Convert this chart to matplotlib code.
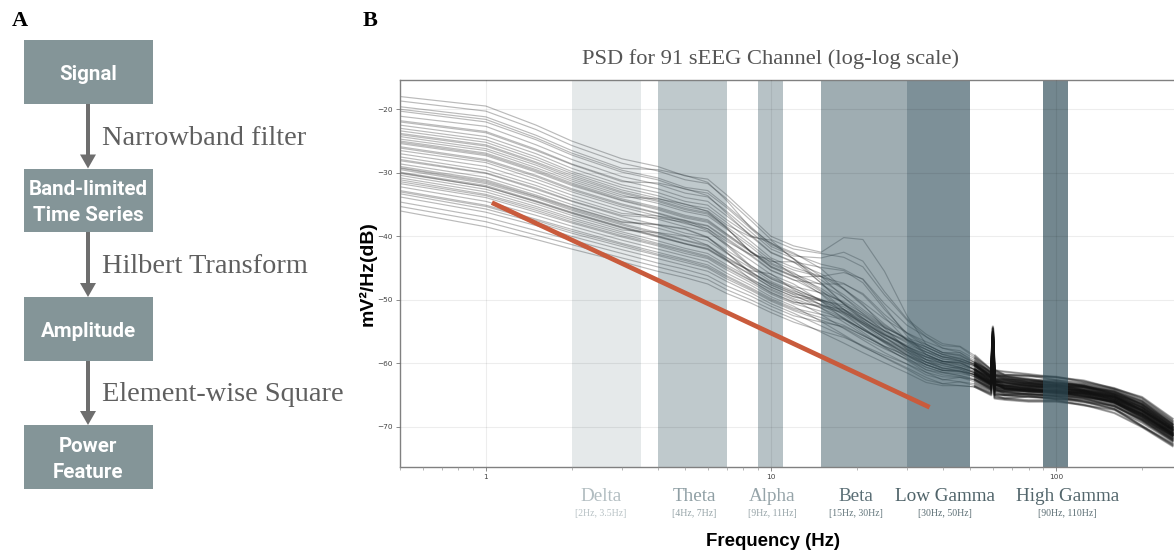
import matplotlib
matplotlib.use("Agg")
import matplotlib.pyplot as plt
from matplotlib.patches import Rectangle, Polygon
from matplotlib.transforms import blended_transform_factory
from matplotlib.ticker import NullFormatter

# ---------------- data ----------------
freqs_hz = [0.5, 1, 1.5, 2, 3, 4, 5, 6, 7, 8.5, 10, 12, 15, 18, 21, 25, 30, 35, 40, 46,
            52, 59.2, 60, 60.8, 66, 80, 100, 125, 160, 200, 256]

channel_psd_db = [
    [-18.0, -19.5, -22.5, -25.0, -27.8, -29.0, -30.5, -31.0, -33.5, -37.0, -40.0, -41.5, -42.5, -40.2, -40.5, -45.5, -52.5, -57.0, -58.3, -58.6, -59.9, -61.3, -55.0, -61.8, -62.0, -62.6, -62.7, -63.5, -64.8, -66.3, -69.6],
    [-18.7, -20.3, -23.2, -25.7, -28.5, -29.7, -31.1, -31.7, -34.1, -37.5, -40.5, -42.0, -42.7, -43.3, -44.8, -49.2, -53.2, -55.8, -57.2, -57.4, -59.1, -61.0, -54.4, -61.0, -61.8, -62.0, -62.1, -62.9, -63.9, -65.5, -69.0],
    [-19.6, -21.2, -24.1, -26.5, -29.3, -29.5, -30.4, -31.5, -34.4, -38.7, -41.1, -42.6, -45.1, -48.3, -50.9, -53.8, -56.3, -58.2, -59.3, -59.6, -60.4, -62.3, -55.6, -62.5, -63.0, -63.6, -63.6, -63.8, -65.1, -67.0, -70.3],
    [-20.3, -22.0, -24.8, -27.2, -29.9, -31.1, -32.6, -33.2, -35.5, -38.8, -41.6, -43.1, -43.4, -42.5, -43.9, -48.7, -53.0, -55.4, -56.9, -57.3, -58.8, -61.0, -54.2, -61.1, -61.3, -61.7, -62.2, -62.7, -64.0, -65.3, -68.7],
    [-21.1, -22.7, -25.6, -27.9, -30.6, -31.8, -33.2, -33.8, -36.1, -39.3, -42.0, -43.5, -46.3, -49.6, -52.2, -54.9, -57.4, -59.4, -60.1, -60.6, -61.5, -63.0, -56.2, -63.3, -63.5, -64.0, -64.5, -64.7, -65.7, -67.8, -71.0],
    [-21.8, -23.5, -26.3, -28.6, -31.2, -32.5, -33.9, -34.5, -36.8, -39.8, -42.5, -44.0, -44.9, -45.4, -47.3, -51.5, -55.3, -57.4, -58.6, -58.7, -60.2, -61.9, -55.2, -62.0, -62.5, -62.6, -63.2, -63.7, -64.4, -66.5, -69.9],
    [-22.5, -24.3, -27.0, -29.3, -31.9, -33.1, -34.5, -35.1, -37.4, -39.9, -41.0, -43.5, -47.4, -50.7, -53.2, -55.8, -58.2, -60.2, -61.1, -61.2, -61.8, -63.4, -56.6, -64.1, -64.3, -64.4, -64.6, -64.8, -66.1, -68.3, -71.4],
    [-23.0, -24.8, -27.5, -29.8, -32.3, -33.6, -35.0, -35.6, -37.8, -40.8, -43.4, -44.9, -46.3, -48.3, -50.4, -53.0, -55.2, -56.6, -57.6, -58.3, -59.6, -61.4, -54.5, -61.5, -62.0, -62.4, -63.1, -63.3, -64.3, -66.0, -69.4],
    [-23.8, -25.6, -28.3, -30.4, -33.0, -34.3, -35.6, -36.3, -38.5, -41.3, -43.8, -45.3, -46.4, -47.4, -49.2, -52.7, -56.4, -58.6, -59.7, -59.9, -61.0, -62.8, -55.8, -62.8, -63.0, -63.5, -63.8, -64.3, -65.3, -67.0, -70.5],
    [-24.3, -26.2, -28.8, -31.0, -33.5, -34.8, -36.1, -36.8, -38.9, -41.7, -44.2, -45.7, -48.5, -51.5, -53.9, -56.4, -58.7, -60.6, -61.4, -61.9, -62.4, -63.7, -56.8, -64.0, -64.5, -64.4, -64.8, -65.3, -66.0, -68.5, -71.7],
    [-24.7, -26.5, -29.2, -31.3, -33.8, -34.1, -34.9, -36.1, -38.7, -42.5, -44.4, -45.9, -47.6, -49.6, -51.8, -54.2, -56.3, -57.8, -59.0, -59.3, -60.1, -62.1, -55.4, -62.7, -62.8, -63.1, -63.4, -63.6, -64.9, -66.8, -70.1],
    [-25.0, -26.9, -29.5, -31.6, -34.1, -35.4, -36.7, -37.4, -39.6, -42.3, -44.7, -46.2, -48.2, -50.6, -52.8, -55.2, -57.4, -59.0, -59.6, -60.3, -61.3, -62.8, -56.0, -63.0, -63.9, -63.8, -63.7, -64.5, -65.5, -67.5, -70.8],
    [-25.4, -27.3, -29.9, -32.0, -34.4, -35.8, -37.1, -37.8, -39.9, -42.5, -44.9, -46.4, -46.3, -45.7, -46.7, -50.6, -54.0, -55.8, -57.6, -58.0, -59.3, -61.5, -54.6, -61.3, -61.8, -61.9, -62.6, -63.1, -64.1, -65.8, -69.2],
    [-25.9, -27.9, -30.4, -32.5, -34.9, -36.3, -37.5, -38.3, -40.3, -42.9, -45.3, -46.8, -49.0, -51.5, -53.6, -56.0, -58.1, -59.8, -60.7, -61.2, -61.8, -63.2, -56.4, -63.1, -64.0, -64.2, -64.4, -64.9, -66.2, -68.0, -71.2],
    [-26.5, -28.4, -31.0, -33.0, -35.4, -36.8, -38.0, -38.8, -40.8, -42.9, -43.6, -46.1, -48.7, -50.5, -52.5, -54.8, -56.8, -58.2, -58.9, -59.6, -60.7, -62.3, -55.6, -62.5, -62.6, -63.3, -63.6, -64.1, -65.1, -67.4, -70.3],
    [-27.0, -29.0, -31.5, -33.5, -35.9, -37.3, -38.5, -39.3, -41.3, -43.8, -46.0, -47.5, -50.2, -53.0, -55.1, -57.4, -59.5, -61.4, -62.1, -62.2, -62.6, -64.1, -57.2, -64.5, -65.0, -64.8, -65.2, -66.0, -66.7, -69.0, -72.1],
    [-27.5, -29.6, -32.0, -34.0, -36.4, -36.8, -37.5, -38.8, -41.2, -44.7, -46.4, -47.9, -48.9, -50.3, -52.1, -54.3, -56.2, -57.4, -58.6, -59.3, -60.2, -61.9, -55.2, -62.4, -62.5, -62.9, -62.9, -63.7, -64.7, -66.5, -69.9],
    [-28.1, -30.1, -32.6, -34.5, -36.9, -38.2, -39.5, -40.2, -42.2, -44.6, -46.7, -48.2, -50.0, -51.9, -53.8, -56.0, -57.9, -59.4, -60.8, -60.6, -61.5, -63.3, -56.2, -63.3, -63.8, -64.0, -64.2, -64.7, -65.4, -67.8, -71.0],
    [-28.6, -30.7, -33.1, -35.0, -37.4, -38.7, -39.9, -40.7, -42.7, -45.0, -47.1, -48.6, -49.9, -51.5, -53.3, -55.4, -57.3, -58.9, -59.7, -59.9, -61.0, -62.5, -55.8, -62.8, -63.6, -63.5, -64.1, -64.3, -65.3, -67.3, -70.5],
    [-29.0, -31.1, -33.5, -35.4, -37.7, -38.1, -38.8, -40.1, -42.5, -45.7, -47.3, -48.8, -50.8, -52.8, -54.7, -56.7, -58.7, -60.2, -61.1, -61.2, -61.7, -63.4, -56.6, -63.8, -64.3, -64.0, -64.6, -65.1, -66.1, -68.7, -71.4],
    [-29.3, -31.5, -33.8, -35.7, -38.0, -39.4, -40.6, -41.4, -43.3, -45.5, -47.6, -49.1, -50.0, -51.1, -52.9, -54.9, -56.6, -57.8, -59.0, -59.0, -60.4, -62.1, -55.4, -62.6, -62.8, -63.1, -63.4, -64.2, -64.9, -66.8, -70.1],
    [-29.5, -31.7, -34.0, -35.9, -38.2, -39.6, -40.7, -41.6, -43.4, -45.6, -47.7, -49.2, -51.3, -53.5, -55.4, -57.5, -59.4, -61.0, -61.5, -61.9, -62.6, -63.9, -57.0, -64.3, -64.4, -64.9, -65.0, -65.5, -66.8, -68.8, -71.9],
    [-29.9, -32.0, -34.4, -36.2, -38.5, -39.9, -41.1, -41.9, -43.7, -45.4, -45.9, -48.4, -50.8, -52.2, -53.9, -55.9, -57.7, -59.0, -60.0, -60.3, -61.0, -62.8, -56.0, -63.4, -63.5, -63.8, -64.3, -64.5, -65.5, -67.5, -70.8],
    [-30.1, -32.2, -34.6, -36.4, -38.7, -40.1, -41.2, -42.1, -43.9, -46.1, -48.0, -49.5, -50.1, -50.8, -52.4, -54.4, -56.0, -57.0, -58.3, -58.3, -59.9, -61.6, -55.0, -61.8, -62.3, -62.9, -63.0, -63.5, -64.5, -66.0, -69.6],
    [-30.4, -32.6, -34.9, -36.7, -39.0, -39.4, -40.0, -41.4, -43.7, -46.8, -48.3, -49.8, -51.3, -52.9, -54.7, -56.6, -58.4, -59.8, -60.3, -60.9, -61.8, -63.2, -56.0, -63.5, -64.0, -64.2, -64.4, -65.2, -65.9, -68.0, -71.2],
    [-30.8, -33.0, -35.3, -37.1, -39.3, -40.7, -41.9, -42.7, -44.5, -46.6, -48.5, -50.0, -52.3, -54.5, -56.3, -58.3, -60.1, -61.8, -62.5, -62.9, -63.2, -64.3, -57.4, -64.8, -65.0, -65.3, -65.4, -65.9, -67.2, -69.3, -72.3],
    [-31.1, -33.4, -35.6, -37.4, -39.6, -41.1, -42.2, -43.1, -44.8, -46.9, -48.8, -50.3, -51.1, -52.0, -53.6, -55.5, -57.1, -58.2, -59.3, -59.6, -60.4, -62.3, -55.6, -62.9, -63.0, -63.3, -63.3, -64.1, -65.1, -67.0, -70.3],
    [-31.7, -33.9, -36.2, -37.9, -40.1, -41.5, -42.7, -43.5, -45.3, -47.3, -49.1, -50.6, -51.8, -53.0, -54.7, -56.5, -58.2, -59.4, -59.9, -60.6, -61.5, -63.0, -56.2, -63.3, -63.8, -64.4, -64.2, -64.7, -65.7, -68.2, -71.0],
    [-32.2, -34.5, -36.7, -38.4, -40.6, -42.0, -43.1, -44.0, -45.8, -47.7, -49.5, -51.0, -53.4, -55.5, -57.3, -59.1, -60.9, -62.6, -63.2, -63.5, -63.7, -64.8, -57.8, -65.3, -65.5, -65.8, -65.8, -66.6, -67.3, -69.8, -72.8],
    [-32.8, -35.1, -37.3, -38.9, -41.1, -42.5, -43.6, -44.5, -46.2, -48.1, -49.8, -51.3, -52.3, -53.1, -54.6, -56.4, -57.9, -59.0, -60.0, -60.7, -61.3, -62.8, -56.0, -63.3, -63.5, -63.8, -64.0, -64.5, -65.2, -67.5, -70.8],
    [-33.3, -35.7, -37.8, -39.5, -41.6, -43.0, -44.1, -45.0, -46.7, -48.5, -50.2, -51.7, -53.2, -54.4, -56.0, -57.7, -59.3, -60.6, -61.4, -61.6, -62.1, -63.7, -56.8, -64.0, -64.8, -64.7, -65.1, -65.3, -66.3, -68.5, -71.7],
    [-33.8, -36.2, -38.3, -40.0, -42.1, -43.5, -44.6, -45.5, -47.1, -48.9, -50.6, -52.1, -54.1, -55.7, -57.4, -59.0, -60.7, -62.2, -63.2, -62.9, -63.5, -64.6, -57.6, -65.0, -65.5, -65.2, -65.6, -66.1, -67.1, -69.9, -72.6],
    [-34.6, -37.0, -39.1, -40.6, -42.7, -44.2, -45.2, -46.2, -47.8, -49.4, -51.0, -52.5, -53.5, -54.2, -55.6, -57.3, -58.7, -59.8, -60.7, -61.3, -61.8, -63.2, -56.4, -63.0, -64.0, -64.2, -64.4, -64.5, -65.9, -68.0, -71.2],
    [-35.3, -37.7, -39.8, -41.3, -43.4, -44.8, -45.9, -46.8, -48.4, -50.0, -51.5, -53.0, -55.1, -56.8, -58.3, -59.9, -61.5, -63.0, -63.5, -63.5, -63.7, -65.0, -58.0, -65.5, -65.7, -66.0, -66.0, -66.5, -67.8, -70.0, -73.0],
    [-36.0, -38.5, -40.5, -42.0, -44.0, -45.5, -46.5, -47.5, -49.0, -50.5, -52.0, -53.5, -54.9, -55.9, -57.2, -58.7, -60.1, -61.4, -62.6, -62.2, -62.9, -64.1, -57.2, -64.9, -65.0, -65.1, -65.6, -65.7, -66.7, -69.0, -72.1],
    [-29.2, -31.3, -33.7, -35.5, -37.8, -38.2, -38.9, -40.2, -42.6, -45.9, -47.4, -48.9, -50.2, -51.7, -53.4, -55.5, -57.3, -58.6, -59.7, -59.9, -61.0, -62.2, -55.8, -62.8, -63.3, -63.2, -63.8, -64.3, -65.7, -67.3, -70.5],
    [-22.0, -23.7, -26.5, -28.7, -31.4, -31.6, -32.5, -33.6, -36.4, -40.0, -42.6, -44.1, -45.9, -48.2, -50.7, -54.4, -57.8, -59.8, -60.9, -60.9, -61.8, -63.0, -56.4, -63.5, -63.8, -64.2, -64.6, -64.9, -65.9, -68.0, -71.2],
    [-23.4, -25.2, -27.9, -30.1, -32.7, -34.0, -35.3, -36.0, -38.2, -40.1, -40.6, -43.6, -46.9, -49.2, -51.5, -54.0, -56.2, -57.8, -59.0, -59.5, -60.4, -62.1, -55.4, -62.3, -62.6, -63.1, -63.5, -63.9, -64.9, -66.8, -70.1],
    [-25.2, -27.1, -29.7, -31.8, -34.3, -35.6, -36.9, -37.6, -39.7, -42.4, -44.8, -46.3, -49.1, -52.1, -54.4, -56.8, -59.1, -61.0, -61.8, -62.1, -62.6, -63.9, -57.0, -64.3, -64.6, -64.9, -65.2, -65.5, -66.5, -68.8, -71.9],
    [-26.1, -28.1, -30.6, -32.7, -35.1, -36.4, -37.7, -38.4, -40.5, -43.1, -45.4, -46.9, -47.5, -47.5, -49.0, -52.3, -55.2, -57.0, -58.3, -58.8, -59.9, -61.6, -55.0, -61.8, -62.1, -62.6, -63.2, -63.5, -64.5, -66.3, -69.6],
    [-27.9, -30.0, -32.4, -34.4, -36.7, -37.1, -37.8, -39.1, -41.5, -44.9, -46.6, -48.1, -50.2, -52.4, -54.4, -56.6, -58.6, -60.2, -61.1, -61.4, -62.1, -63.4, -56.6, -63.8, -64.0, -64.4, -64.8, -65.1, -66.1, -68.3, -71.4],
    [-30.0, -32.2, -34.5, -36.3, -38.6, -40.0, -41.2, -42.0, -43.8, -46.0, -48.0, -49.5, -50.7, -51.9, -53.6, -55.6, -57.4, -58.6, -59.7, -60.1, -61.0, -62.5, -55.8, -62.8, -63.1, -63.5, -64.0, -64.3, -65.3, -67.3, -70.5],
    [-24.0, -25.8, -28.5, -30.7, -33.2, -34.5, -35.8, -36.5, -38.7, -42.5, -44.0, -44.0, -47.3, -50.6, -52.9, -55.4, -57.6, -59.4, -60.4, -60.8, -61.5, -63.0, -56.2, -63.3, -63.6, -64.0, -64.4, -64.7, -65.7, -67.8, -71.0],
    [-31.4, -33.6, -35.9, -37.7, -39.9, -41.3, -42.4, -43.3, -45.0, -47.0, -48.9, -50.4, -50.9, -51.5, -53.0, -54.9, -56.4, -57.4, -58.6, -59.2, -60.2, -61.9, -55.2, -62.0, -62.3, -62.9, -63.4, -63.7, -64.7, -66.5, -69.9],
    [-20.0, -21.6, -24.5, -26.9, -29.6, -30.8, -32.3, -32.8, -35.2, -38.5, -41.3, -42.8, -44.4, -45.2, -46.8, -51.1, -55.7, -58.6, -59.7, -59.7, -61.0, -62.5, -55.8, -62.8, -63.4, -63.5, -63.6, -64.3, -65.3, -67.3, -70.5],
    [-33.0, -35.3, -37.5, -39.2, -41.3, -42.8, -43.8, -44.8, -46.4, -48.3, -50.0, -51.5, -52.8, -54.0, -55.6, -57.3, -58.9, -60.2, -61.1, -61.2, -62.1, -63.4, -56.6, -63.8, -64.1, -64.4, -64.6, -65.1, -66.1, -68.3, -71.4],
]

band_names = ["Delta", "Theta", "Alpha", "Beta", "Low Gamma", "High Gamma"]
band_ranges_hz = [(2, 3.5), (4, 7), (9, 11), (15, 30), (30, 50), (90, 110)]
band_range_labels = ["[2Hz, 3.5Hz]", "[4Hz, 7Hz]", "[9Hz, 11Hz]",
                     "[15Hz, 30Hz]", "[30Hz, 50Hz]", "[90Hz, 110Hz]"]

flow_steps = ["Signal", "Band-limited\nTime Series", "Amplitude", "Power\nFeature"]
flow_ops = ["Narrowband filter", "Hilbert Transform", "Element-wise Square"]

lfp_line_hz = [1.05, 36.0]
lfp_line_db = [-34.7, -66.9]

x_ticks = [1, 10, 100]
x_tick_labels = ["1", "10", "100"]
y_ticks = [-70, -60, -50, -40, -30, -20]

title_text = "PSD for 91 sEEG Channel (log-log scale)"

# ---------------- style ----------------
W, H = 1174, 554
SERIF = ["Liberation Serif", "DejaVu Serif"]
SANS = ["Liberation Sans", "DejaVu Sans"]
BOXFONT = ["Roboto", "DejaVu Sans"]
band_base = "#2e4d59"
band_alphas = [0.12, 0.30, 0.34, 0.46, 0.62, 0.67]
band_name_colors = ["#b2bdc1", "#8f9fa4", "#96a4a9", "#5b6f76", "#4f6369", "#53666c"]
band_sub_colors = ["#b7c1c4", "#95a3a7", "#95a3a7", "#62757b", "#596c72", "#5a6d73"]
label_x_hz = [2.53, 5.37, 10.08, 19.9, 40.8, 109.3]

fig = plt.figure(figsize=(W / 100, H / 100), dpi=100)
ov = fig.add_axes([0, 0, 1, 1])
ov.set_xlim(0, W)
ov.set_ylim(H, 0)
ov.axis("off")

ax = fig.add_axes([400 / W, 1 - 467 / H, (1174 - 400) / W, (467 - 80) / H])
ax.set_xscale("log")
ax.set_xlim(0.5, 259)
ax.set_ylim(-76.3, -15.4)

for row in channel_psd_db:
    ax.plot(freqs_hz, row, color="#1c1c1c", lw=0.85, alpha=0.30, zorder=2.0)
    ax.plot(freqs_hz[20:], row[20:], color="#111111", lw=1.7, alpha=0.30, zorder=2.05)

for (lo, hi), a in zip(band_ranges_hz, band_alphas):
    ax.axvspan(lo, hi, color=band_base, alpha=a, lw=0, zorder=2.2)

ax.plot(lfp_line_hz, lfp_line_db, color="#c95b3c", lw=3.4,
        solid_capstyle="butt", zorder=5)

ax.set_axisbelow(False)
ax.grid(True, which="major", color="black", alpha=0.07, lw=0.8)
ax.set_xticks(x_ticks, labels=x_tick_labels)
ax.xaxis.set_minor_formatter(NullFormatter())
ax.set_yticks(y_ticks)
ax.tick_params(axis="both", which="major", labelsize=5.3, labelcolor="#444444",
               color="#777777", length=3, width=0.6, pad=2)
ax.tick_params(axis="x", which="minor", color="#999999", length=2, width=0.5)
for s in ["left", "bottom", "top"]:
    ax.spines[s].set_color("#808080")
    ax.spines[s].set_linewidth(1.0)
ax.spines["right"].set_visible(False)

fits = []  # (text, target px, use_height)

# title & panel letters
t = ov.text(771, 64, title_text, ha="center", va="baseline", family=SERIF,
            color="#555555", fontsize=15)
fits.append((t, 376, False))
ov.text(12, 25.5, "A", ha="left", va="baseline", family=SERIF, weight="bold",
        fontsize=16, color="black")
ov.text(363, 26.5, "B", ha="left", va="baseline", family=SERIF, weight="bold",
        fontsize=16, color="black")

# axis labels
t = ov.text(368, 273.5, "mV²/Hz(dB)", rotation=90, ha="center", va="center",
            family=SANS, weight="bold", color="black", fontsize=14)
fits.append((t, 105, True))
t = ov.text(773, 541, "Frequency (Hz)", ha="center", va="center",
            family=SANS, weight="bold", color="black", fontsize=14)
fits.append((t, 135, False))

# 1/f annotation
t = ov.text(509, 250, "1/f drop", ha="center", va="baseline", family=SERIF,
            weight="bold", color="#c0583a", fontsize=14)
fits.append((t, 65, False))
t = ov.text(509, 271.5, "Local Field Potential", ha="center", va="baseline",
            family=SERIF, color="#c0583a", fontsize=13)
fits.append((t, 152, False))

# band labels
trans = blended_transform_factory(ax.transData, ov.transData)
name_texts, sub_texts = [], []
for i, name in enumerate(band_names):
    tn = ov.text(label_x_hz[i], 501, name, transform=trans, ha="center",
                 va="baseline", family=SERIF, color=band_name_colors[i], fontsize=13)
    ts = ov.text(label_x_hz[i], 516, band_range_labels[i], transform=trans,
                 ha="center", va="baseline", family=SERIF,
                 color=band_sub_colors[i], fontsize=7)
    name_texts.append(tn)
    sub_texts.append(ts)

# flowchart
box_x0, box_x1 = 23.5, 153
box_tops = [40, 168.5, 297, 425]
box_h = 63.5
box_color = "#849598"
arrow_color = "#6e6e6e"
box_texts = []
for top, label in zip(box_tops, flow_steps):
    ov.add_patch(Rectangle((box_x0, top), box_x1 - box_x0, box_h,
                           facecolor=box_color, edgecolor="none"))
    cy = top + box_h / 2
    lines = label.split("\n")
    if len(lines) == 1:
        bases = [cy + 8.3]
    else:
        bases = [cy - 5.2, cy + 20.8]
    for ln, b in zip(lines, bases):
        tt = ov.text((box_x0 + box_x1) / 2, b, ln, ha="center", va="baseline",
                     family=BOXFONT, weight="bold", color="white", fontsize=13)
        box_texts.append(tt)

ax_cx = 88
op_baselines = [145, 273, 400.7]
op_texts = []
for i, op in enumerate(flow_ops):
    y0 = box_tops[i] + box_h
    y1 = box_tops[i + 1]
    head_len = 14
    ov.add_patch(Rectangle((ax_cx - 2.3, y0), 4.6, (y1 - head_len) - y0 + 1,
                           facecolor=arrow_color, edgecolor="none"))
    ov.add_patch(Polygon([(ax_cx - 8, y1 - head_len), (ax_cx + 8, y1 - head_len),
                          (ax_cx, y1)], closed=True, facecolor=arrow_color,
                         edgecolor="none"))
    tt = ov.text(102, op_baselines[i], op, ha="left", va="baseline", family=SERIF,
                 color="#5f5f5f", fontsize=18)
    op_texts.append(tt)

# ---------------- fit text sizes to measured widths ----------------
renderer = fig.canvas.get_renderer()


def scale_to(t, target, use_height=False):
    bb = t.get_window_extent(renderer)
    cur = bb.height if use_height else bb.width
    t.set_fontsize(t.get_fontsize() * target / cur)


for t, target, uh in fits:
    scale_to(t, target, uh)

scale_to(name_texts[4], 100)
for tn in name_texts:
    tn.set_fontsize(name_texts[4].get_fontsize())
scale_to(sub_texts[3], 54)
for ts in sub_texts:
    ts.set_fontsize(sub_texts[3].get_fontsize())
scale_to(box_texts[1], 119)
for tb in box_texts:
    tb.set_fontsize(box_texts[1].get_fontsize())
scale_to(op_texts[2], 242)
for to in op_texts:
    to.set_fontsize(op_texts[2].get_fontsize())

fig.savefig("out.png", dpi=100)
